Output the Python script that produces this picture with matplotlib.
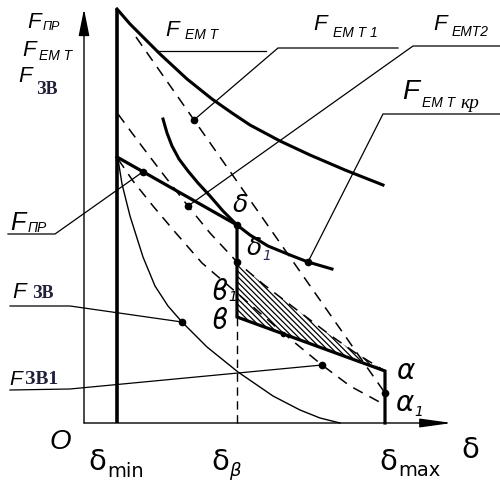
import matplotlib.pyplot as plt
import numpy as np

plt.rcParams['hatch.linewidth'] = 0.9

# зазор δ (абсцисса) и усилия F (ордината), условные единицы
d_min, d_beta, d_max = 3.3, 15.3, 30.1
d_axis_end, f_axis_end = 36.8, 41.4

# тяговая характеристика F_EMT
emt_x = [3.3, 4.6, 6.1, 7.6, 10.3, 12.8, 14.8, 16.6, 19.6, 22.6, 26.1, 29.9]
emt_y = [41.4, 39.9, 38.4, 36.9, 34.4, 32.4, 31.0, 29.8, 28.2, 26.8, 25.3, 23.8]

# критическая тяговая характеристика F_EMTкр
kr_x = [7.9, 8.3, 8.8, 9.5, 10.4, 11.4, 12.6, 13.9, 15.3, 16.6, 18.4, 20.6, 22.4, 24.8]
kr_y = [30.4, 29.0, 27.7, 26.4, 25.2, 24.0, 22.7, 21.2, 19.8, 18.8, 17.7, 16.8, 16.1, 15.4]

# F_EMT1 (штриховая)
emt1_x = [5.2, 30.1]
emt1_y = [38.6, 3.0]

# F_EMT2 (штриховая)
emt2_x = [3.4, 4.8, 6.3, 7.9, 10.4, 12.6, 15.3, 17.9, 21.3, 24.6, 27.3, 30.1]
emt2_y = [30.9, 29.0, 27.0, 24.9, 21.7, 19.0, 16.1, 13.9, 11.3, 8.8, 6.9, 5.2]

# противодействующая характеристика F_ПР (ломаная)
pr_x = [3.3, 15.3, 15.3, 30.1, 30.1]
pr_y = [26.6, 19.8, 10.6, 5.2, 0.0]

# сила возвратной пружины F_ЗВ
zv_x = [3.4, 3.8, 4.6, 5.9, 7.1, 8.4, 9.8, 12.3, 15.4, 18.9, 21.6, 23.6, 25.6]
zv_y = [26.4, 23.9, 20.7, 16.6, 13.7, 11.7, 10.1, 7.6, 5.1, 2.7, 1.3, 0.5, 0.0]

# F_ЗВ1 (штриховая)
zv1_x = [3.4, 4.9, 6.9, 9.1, 11.8, 15.3, 19.9, 23.8, 26.6, 30.1]
zv1_y = [26.4, 24.2, 21.7, 19.1, 16.0, 13.0, 9.0, 5.8, 3.7, 1.8]

fig = plt.figure(figsize=(5, 4.85), dpi=100)
ax = fig.add_axes([0, 0, 1, 1])
ax.set_xlim(-8.4, 41.6)
ax.set_ylim(-6.1, 42.4)
ax.axis('off')

# оси
ax.annotate('', xy=(0, f_axis_end), xytext=(0, 0),
            arrowprops=dict(arrowstyle='-|>,head_length=1.1,head_width=0.22',
                            lw=1.0, color='k', mutation_scale=15, shrinkA=0, shrinkB=0))
ax.annotate('', xy=(d_axis_end, 0), xytext=(0, 0),
            arrowprops=dict(arrowstyle='-|>,head_length=1.3,head_width=0.18',
                            lw=1.0, color='k', mutation_scale=15, shrinkA=0, shrinkB=0))
ax.plot([d_min, d_min], [0, f_axis_end], color='k', lw=2.6, solid_capstyle='butt')

dash = (0, (7, 5))
ax.plot(emt_x, emt_y, color='k', lw=2.2)
ax.plot(kr_x, kr_y, color='k', lw=2.2)
ax.plot(emt1_x, emt1_y, color='k', lw=1.1, ls=dash)
ax.plot(emt2_x, emt2_y, color='k', lw=1.1, ls=dash)
ax.plot(zv1_x, zv1_y, color='k', lw=1.1, ls=dash)
ax.plot(zv_x, zv_y, color='k', lw=1.0)
ax.plot(pr_x, pr_y, color='k', lw=2.3, solid_joinstyle='miter')
ax.plot([d_beta, d_beta], [0, pr_y[2]], color='k', lw=1.0, ls=(0, (6, 4)))

# заштрихованная область между F_EMT2 и F_ПР
i0 = emt2_x.index(d_beta)
hx = emt2_x[i0:] + [pr_x[2]]
hy = emt2_y[i0:] + [pr_y[2]]
ax.fill(hx, hy, facecolor='none', edgecolor='k', hatch='\\' * 6, lw=0)

# точки на характеристиках
dots = [
    (11.0, np.interp(11.0, emt1_x, np.array(emt1_y))),
    (10.4, np.interp(10.4, emt2_x, emt2_y)),
    (22.4, np.interp(22.4, kr_x, kr_y)),
    (5.9, np.interp(5.9, pr_x[:2], pr_y[:2])),
    (9.8, np.interp(9.8, zv_x, zv_y)),
    (23.8, np.interp(23.8, zv1_x, zv1_y)),
    (d_max, emt1_y[1]),
    (d_beta, emt2_y[i0]),
    (d_beta, pr_y[1]),
]
for x, y in dots:
    ax.plot(x, y, 'o', color='k', ms=4.5)
ax.plot(19.9, np.interp(19.9, pr_x[2:4], pr_y[2:4]), 'o', color='k', ms=3)

# выноски
lead = dict(color='k', lw=0.9)
ax.plot([7.3, 18.2], [37.2, 37.2], **lead)
ax.plot([31.4, 19.4, dots[0][0]], [37.5, 37.5, dots[0][1]], **lead)
ax.plot([41.6, 32.9, dots[1][0]], [37.7, 37.7, dots[1][1]], **lead)
ax.plot([41.6, 29.9, dots[2][0]], [30.9, 30.9, dots[2][1]], **lead)
ax.plot([-7.6, -2.9, dots[3][0]], [18.9, 18.9, dots[3][1]], **lead)
ax.plot([-7.4, -1.4, dots[4][0]], [11.7, 11.7, dots[4][1]], **lead)
ax.plot([-7.4, -1.4, dots[5][0]], [3.3, 3.4, dots[5][1]], **lead)

sans = 'Liberation Sans'
serif = 'Liberation Serif'
navy = '#20203a'


def force_label(x, y, sub, sub_dx, sub_dy, fs=16, sub_fs=10, sub_font=sans,
                sub_style='italic', sub_weight='normal', sub_color='k'):
    ax.text(x, y, 'F', family=sans, style='italic', fontsize=fs,
            ha='center', va='center')
    ax.text(x + sub_dx, y + sub_dy, sub, family=sub_font, style=sub_style,
            weight=sub_weight, fontsize=sub_fs, color=sub_color,
            ha='left', va='center')


# подписи у оси ординат
force_label(-5.0, 40.2, 'ПР', 0.9, -0.5, sub_fs=9)
force_label(-5.5, 37.4, 'EM T', 1.0, -0.6)
force_label(-5.9, 34.7, 'ЗВ', 1.1, -1.3, sub_fs=13, sub_font=serif,
            sub_style='normal', sub_weight='bold', sub_color=navy)

# подписи характеристик
force_label(8.8, 39.4, 'EM T', 1.3, -0.5)
force_label(23.6, 39.9, 'EM T 1', 1.3, -0.8)
force_label(35.6, 39.9, 'EMT2', 1.2, -0.7)
ax.text(32.7, 33.2, 'F', family=sans, style='italic', fontsize=20,
        ha='center', va='center')
ax.text(33.8, 32.1, 'EM T', family=sans, style='italic', fontsize=10,
        ha='left', va='center')
ax.text(37.6, 32.0, 'кр', family=serif, style='italic', fontsize=14,
        ha='left', va='center')
force_label(-6.6, 20.1, 'ПР', 1.0, -0.5, fs=18, sub_fs=10)
force_label(-6.5, 13.2, 'ЗВ', 1.3, -0.2, sub_fs=13, sub_font=serif,
            sub_style='normal', sub_weight='bold', sub_color=navy)
force_label(-6.8, 4.4, 'ЗВ1', 0.9, 0.0, fs=15, sub_fs=14, sub_font=serif,
            sub_style='normal', sub_weight='bold', sub_color=navy)

# подписи оси абсцисс
ax.text(-2.4, -1.8, 'O', family=sans, style='italic', fontsize=20,
        ha='center', va='center')
ax.text(1.3, -3.8, 'δ', family='DejaVu Sans', fontsize=21, ha='center', va='center')
ax.text(2.3, -4.8, 'min', family='DejaVu Sans', fontsize=14, ha='left', va='center')
ax.text(13.6, -3.8, 'δ', family='DejaVu Sans', fontsize=21, ha='center', va='center')
ax.text(14.5, -4.7, 'β', family='DejaVu Sans', style='italic', fontsize=13,
        ha='left', va='center')
ax.text(30.4, -3.8, 'δ', family='DejaVu Sans', fontsize=21, ha='center', va='center')
ax.text(31.4, -4.7, 'max', family='DejaVu Sans', fontsize=14, ha='left', va='center')
ax.text(38.6, -2.6, 'δ', family='DejaVu Sans', fontsize=21, ha='center', va='center')

# обозначения точек
pt = dict(family='DejaVu Sans', style='italic', ha='center', va='center')
ax.text(32.1, 5.3, 'α', fontsize=20, **pt)
ax.text(32.0, 2.1, 'α', fontsize=20, **pt)
ax.text(33.5, 1.2, '1', fontsize=10, **pt)
ax.text(15.6, 21.9, 'δ', fontsize=18, **pt)
ax.text(17.0, 17.6, 'δ', fontsize=18, **pt)
ax.text(18.3, 16.8, '1', fontsize=10, color='#2a2a55', **pt)
ax.text(13.6, 13.2, 'ϐ', fontsize=20, **pt)
ax.text(14.9, 12.7, '1', fontsize=10, **pt)
ax.text(13.6, 10.3, 'ϐ', fontsize=20, **pt)

fig.savefig('out.png', dpi=100)
